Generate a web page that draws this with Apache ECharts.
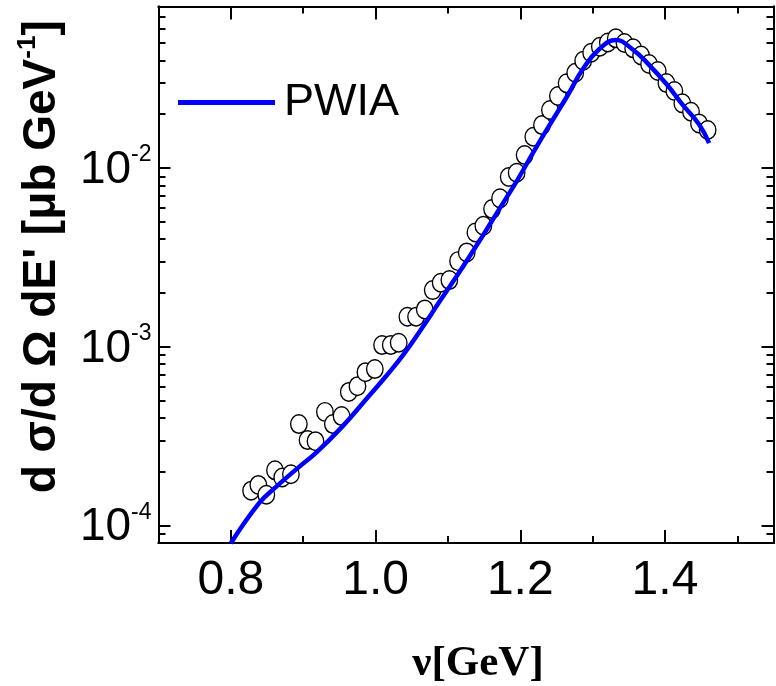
<!DOCTYPE html>
<html><head><meta charset="utf-8">
<script src="https://cdn.jsdelivr.net/npm/echarts@6/dist/echarts.min.js"></script>
<style>html,body{margin:0;padding:0;background:#fff}#c{width:776px;height:686px}</style>
</head><body><div id="c"></div>
<script>
// ---- data ----
const nuData = [0.828,0.838,0.849,0.861,0.871,0.883,0.894,0.906,0.917,0.930,0.941,0.953,0.963,0.975,0.986,0.999,
  1.009,1.021,1.032,1.044,1.056,1.068,1.079,1.090,1.102,1.114,1.126,1.138,1.149,1.161,1.172,1.184,1.195,1.206,
  1.218,1.230,1.241,1.252,1.264,1.276,1.287,1.298,1.310,1.321,1.332,1.344,1.356,1.367,1.378,1.390,1.402,1.413,
  1.424,1.436,1.447,1.459];
const xsData = [1.57e-4,1.69e-4,1.49e-4,2.04e-4,1.86e-4,1.94e-4,3.70e-4,3.01e-4,2.97e-4,4.33e-4,3.70e-4,4.10e-4,
  5.60e-4,6.03e-4,7.22e-4,7.51e-4,1.023e-3,1.023e-3,1.054e-3,1.473e-3,1.473e-3,1.620e-3,2.077e-3,2.282e-3,2.363e-3,
  3.017e-3,3.376e-3,4.368e-3,4.755e-3,5.896e-3,6.77e-3,8.91e-3,9.41e-3,1.182e-2,1.496e-2,1.740e-2,2.111e-2,2.528e-2,
  2.978e-2,3.413e-2,3.983e-2,4.417e-2,4.771e-2,5.036e-2,5.316e-2,5.004e-2,4.674e-2,4.260e-2,3.818e-2,3.488e-2,
  2.988e-2,2.696e-2,2.301e-2,2.065e-2,1.778e-2,1.632e-2];
const pwiaNu = [0.800,0.839,0.862,0.894,0.918,0.954,0.987,1.015,1.039,1.064,1.088,1.115,1.147,1.171,1.196,1.219,
  1.243,1.265,1.287,1.309,1.332,1.355,1.378,1.402,1.424,1.447,1.461];
const pwiaXs = [7.98e-5,1.336e-4,1.642e-4,2.125e-4,2.56e-4,3.58e-4,5.1e-4,6.9e-4,9.1e-4,1.27e-3,1.78e-3,
  2.586e-3,4.111e-3,5.897e-3,8.568e-3,1.245e-2,1.809e-2,2.53e-2,3.6e-2,4.62e-2,5.2e-2,4.62e-2,3.78e-2,
  2.95e-2,2.27e-2,1.76e-2,1.38e-2];
const xMajorTicks = [0.8,1.0,1.2,1.4];
const xMinorTicks = [0.9,1.1,1.3,1.5];
const yMajorTicks = [1e-4,1e-3,1e-2];
const yMinorTicks = [8e-5,9e-5,2e-4,3e-4,4e-4,5e-4,6e-4,7e-4,8e-4,9e-4,2e-3,3e-3,4e-3,5e-3,6e-3,7e-3,8e-3,9e-3,
  2e-2,3e-2,4e-2,5e-2,6e-2,7e-2];
const seriesNames = ['PWIA','data'];
const xTitle = 'ν[GeV]';
const yTitle = "d σ/d Ω dE' [μb GeV{s|-1}]";

// ---- chart ----
const SANS = "'Liberation Sans',Arial,Helvetica,sans-serif";
const X0 = 0.7, X1 = 1.55, Y0 = 8e-5, Y1 = 8e-2;
const axisLine = {show:true, lineStyle:{color:'#000', width:2}};
const tickStyle = {color:'#000', width:2};
function xAx(pos, vals, len, labels, name) {
  return {type:'value', min:X0, max:X1, position:pos,
    axisLine: axisLine,
    axisTick:{show:true, inside:true, length:len, customValues:vals, lineStyle:tickStyle},
    axisLabel:{show:labels, customValues:vals, formatter:v=>v.toFixed(1), margin:14,
      fontSize:48, fontFamily:SANS, color:'#000'},
    splitLine:{show:false},
    name: name||'', nameLocation:'middle', nameGap:99,
    nameTextStyle:{fontFamily:"'Liberation Serif','Times New Roman',serif", fontWeight:'bold', fontSize:43,
      color:'#000', padding:[0,0,0,24]}
  };
}
function yAx(pos, vals, len, labels, name) {
  return {type:'log', logBase:10, min:Y0, max:Y1, position:pos,
    axisLine: axisLine,
    axisTick:{show:true, inside:true, length:len, customValues:vals, lineStyle:tickStyle},
    axisLabel:{show:labels, customValues:vals, margin:7,
      formatter:v=>'{b|10}{s|'+Math.round(Math.log10(v))+'}',
      rich:{ b:{fontSize:46, lineHeight:50, verticalAlign:'bottom', fontFamily:SANS, color:'#000', padding:[4,0,0,0]},
             s:{fontSize:23, lineHeight:23, verticalAlign:'top', fontFamily:SANS, color:'#000'} } },
    splitLine:{show:false}, minorTick:{show:false},
    name: name||'', nameLocation:'middle', nameRotate:90, nameGap:75,
    nameTextStyle:{fontFamily:SANS, fontWeight:'bold', fontSize:46, lineHeight:54,
      color:'#000', padding:[0,0,0,36],
      rich:{ s:{fontSize:26, lineHeight:26, fontWeight:'bold', verticalAlign:'top', fontFamily:SANS, color:'#000'} } }
  };
}
const chart = echarts.init(document.getElementById('c'), null, {renderer:'canvas'});
chart.setOption({
  animation:false,
  backgroundColor:'#fff',
  grid:{left:158.5, right:2.5, top:6.6, bottom:143, containLabel:false, outerBoundsMode:'none'},
  xAxis:[ xAx('bottom', xMajorTicks, 13, true, xTitle), xAx('bottom', xMinorTicks, 7, false),
          xAx('top', xMajorTicks, 13, false), xAx('top', xMinorTicks, 7, false) ],
  yAxis:[ yAx('left', yMajorTicks, 12, true, yTitle), yAx('left', yMinorTicks, 7, false),
          yAx('right', yMajorTicks, 12, false), yAx('right', yMinorTicks, 7, false) ],
  legend:{data:[seriesNames[0]], left:173, top:75, itemWidth:97, itemHeight:5, itemGap:10,
    textStyle:{fontSize:45, fontFamily:SANS, color:'#000', padding:[0,0,0,4]},
    icon:'path://M0,0 L100,0 L100,5 L0,5 Z'},
  series:[
    {name:seriesNames[0], type:'line', xAxisIndex:0, yAxisIndex:0, smooth:0.45, symbol:'none',
      lineStyle:{color:'#0000ff', width:4.5}, itemStyle:{color:'#0000ff'},
      data: pwiaNu.map((x,i)=>[x, pwiaXs[i]])},
    {name:seriesNames[1], type:'scatter', xAxisIndex:0, yAxisIndex:0, symbol:'circle', symbolSize:[16.5,18.5],
      itemStyle:{color:'#fff', borderColor:'#000', borderWidth:1.4, opacity:1},
      data: nuData.map((x,i)=>[x, xsData[i]])}
  ]
});
</script></body></html>
